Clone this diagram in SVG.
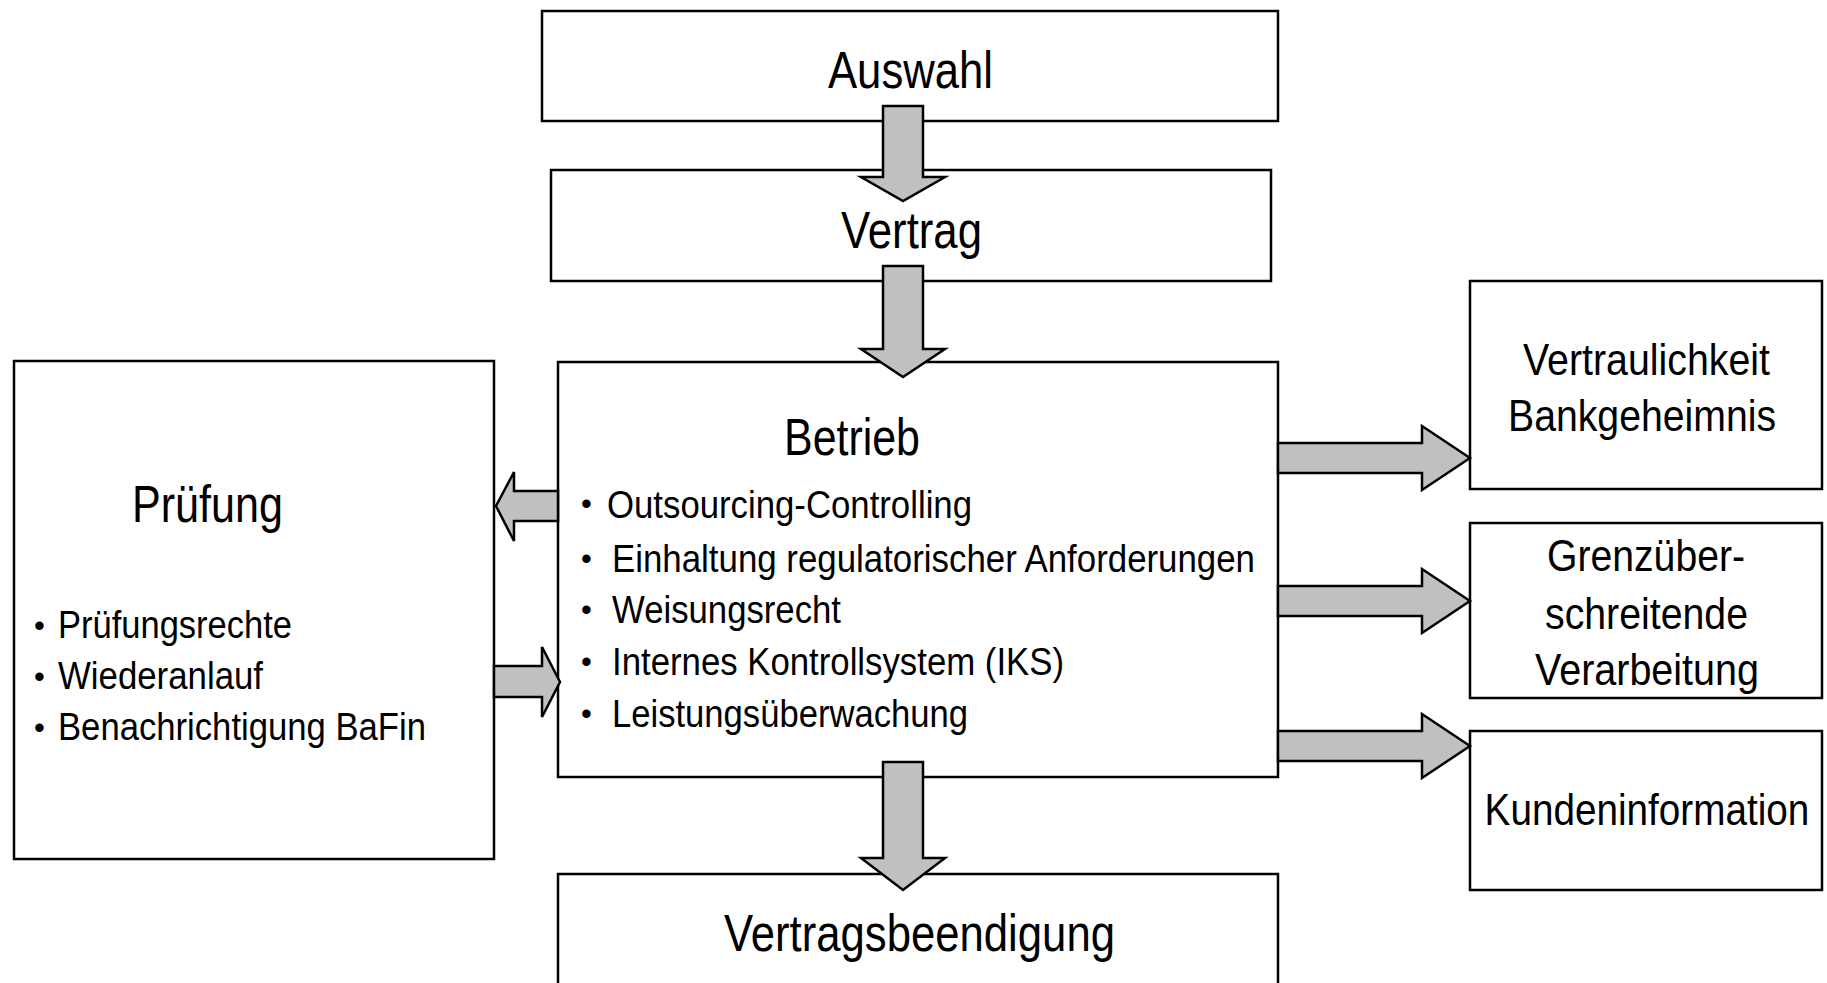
<svg xmlns="http://www.w3.org/2000/svg" width="1827" height="983" viewBox="0 0 1827 983">
<style>
.box{fill:#fff;stroke:#000;stroke-width:2.5}
.arr{fill:#c0c0c0;stroke:#000;stroke-width:2.5;stroke-linejoin:miter}
.t{font-family:"Liberation Sans Narrow","Liberation Sans",Arial,sans-serif;fill:#000}
.h{font-size:52px}
.b{font-size:38px}
.d{font-size:31px}
.r{font-family:"Liberation Sans",Arial,sans-serif;font-size:45px;fill:#000}
</style>
<rect width="1827" height="983" fill="#fff"/>
<g id="auswahl"><rect class="box" x="542" y="11" width="736" height="110"/>
<text class="t h" x="828" y="88" textLength="165" lengthAdjust="spacingAndGlyphs">Auswahl</text></g>
<g id="vertrag"><rect class="box" x="551" y="170" width="720" height="111"/>
<text class="t h" x="841" y="248" textLength="141" lengthAdjust="spacingAndGlyphs">Vertrag</text></g>
<g id="betrieb"><rect class="box" x="558" y="362" width="720" height="415"/>
<text class="t h" x="784" y="455" textLength="136" lengthAdjust="spacingAndGlyphs">Betrieb</text>
<text class="t d" x="581" y="514">•</text>
<text class="t b" x="607" y="518" textLength="365" lengthAdjust="spacingAndGlyphs">Outsourcing-Controlling</text>
<text class="t d" x="581" y="569">•</text>
<text class="t b" x="612" y="572" textLength="643" lengthAdjust="spacingAndGlyphs">Einhaltung regulatorischer Anforderungen</text>
<text class="t d" x="581" y="620">•</text>
<text class="t b" x="612" y="623" textLength="229" lengthAdjust="spacingAndGlyphs">Weisungsrecht</text>
<text class="t d" x="581" y="672">•</text>
<text class="t b" x="612" y="675" textLength="452" lengthAdjust="spacingAndGlyphs">Internes Kontrollsystem (IKS)</text>
<text class="t d" x="581" y="724">•</text>
<text class="t b" x="612" y="727" textLength="356" lengthAdjust="spacingAndGlyphs">Leistungsüberwachung</text></g>
<g id="vertragsbeendigung"><rect class="box" x="558" y="874" width="720" height="130"/>
<text class="t h" x="724" y="951" textLength="391" lengthAdjust="spacingAndGlyphs">Vertragsbeendigung</text></g>
<g id="pruefung"><rect class="box" x="14" y="361" width="480" height="498"/>
<text class="t h" x="132" y="522" textLength="151" lengthAdjust="spacingAndGlyphs">Prüfung</text>
<text class="t d" x="34" y="636">•</text>
<text class="t b" x="58" y="638" textLength="234" lengthAdjust="spacingAndGlyphs">Prüfungsrechte</text>
<text class="t d" x="34" y="687">•</text>
<text class="t b" x="58" y="689" textLength="205" lengthAdjust="spacingAndGlyphs">Wiederanlauf</text>
<text class="t d" x="34" y="738">•</text>
<text class="t b" x="58" y="740" textLength="368" lengthAdjust="spacingAndGlyphs">Benachrichtigung BaFin</text></g>
<g id="vertraulichkeit"><rect class="box" x="1470" y="281" width="352" height="208"/>
<text class="r" x="1523" y="375" textLength="247" lengthAdjust="spacingAndGlyphs">Vertraulichkeit</text>
<text class="r" x="1508" y="431" textLength="268" lengthAdjust="spacingAndGlyphs">Bankgeheimnis</text></g>
<g id="grenzueberschreitend"><rect class="box" x="1470" y="523" width="352" height="175"/>
<text class="r" x="1547" y="571" textLength="198" lengthAdjust="spacingAndGlyphs">Grenzüber-</text>
<text class="r" x="1545" y="629" textLength="203" lengthAdjust="spacingAndGlyphs">schreitende</text>
<text class="r" x="1535" y="685" textLength="224" lengthAdjust="spacingAndGlyphs">Verarbeitung</text></g>
<g id="kundeninformation"><rect class="box" x="1470" y="731" width="352" height="159"/>
<text class="r" transform="translate(1647,825) scale(0.86,1)" x="0" y="0" text-anchor="middle">Kundeninformation</text></g>
<g id="connectors">
<path class="arr" d="M883,106 H923 V177 H945 L903,201 L861,177 H883 Z"/>
<path class="arr" d="M883,266 H923 V349 H945 L903,377 L861,349 H883 Z"/>
<path class="arr" d="M883,762 H923 V858 H945 L903,890 L861,858 H883 Z"/>
<path class="arr" d="M558,491 H514 V472 L496,506 L514,541 V521 H558 Z"/>
<path class="arr" d="M494,666 H542 V647 L560,682 L542,717 V697 H494 Z"/>
<path class="arr" d="M1278,443 H1422 V426 L1470,458 L1422,490 V473 H1278 Z"/>
<path class="arr" d="M1278,586 H1422 V569 L1470,601 L1422,633 V616 H1278 Z"/>
<path class="arr" d="M1278,731 H1422 V714 L1470,746 L1422,778 V761 H1278 Z"/>
</g>
</svg>
